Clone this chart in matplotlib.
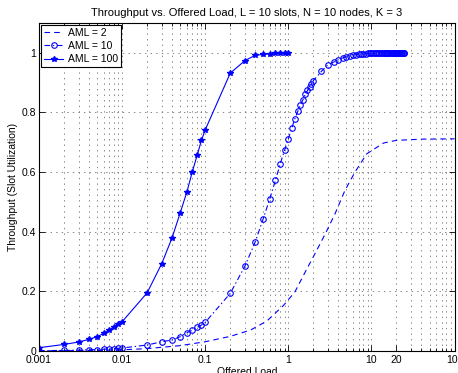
import numpy as np
import matplotlib
matplotlib.use("Agg")
import matplotlib.pyplot as plt
from matplotlib.ticker import FixedLocator, FixedFormatter, LogLocator, NullFormatter

plt.rcParams['font.family'] = ['Liberation Sans', 'DejaVu Sans']
plt.rcParams['lines.scale_dashes'] = False

# AML = 2 (dashed, no markers)
load_2 = [0.001, 0.002, 0.005, 0.01, 0.02, 0.05, 0.1, 0.2, 0.35, 0.55, 0.87, 1.2, 1.6,
          2.1, 2.8, 3.65, 4.8, 6.35, 8.8, 14, 20, 42, 100]
thr_2 = [0.0004, 0.0008, 0.002, 0.004, 0.008, 0.018, 0.031, 0.049, 0.07, 0.10, 0.152, 0.198,
         0.265, 0.327, 0.394, 0.46, 0.538, 0.60, 0.661, 0.697, 0.706, 0.71, 0.711]

# AML = 10
load_10 = [0.001, 0.002, 0.003, 0.004, 0.005, 0.006, 0.007, 0.008, 0.009, 0.01,
           0.02, 0.03, 0.04, 0.05, 0.06, 0.07, 0.08, 0.09, 0.1,
           0.2, 0.3, 0.4, 0.5, 0.6, 0.7, 0.8, 0.9, 1.0,
           1.1, 1.2, 1.3, 1.4, 1.5, 1.6, 1.7, 1.8, 1.9, 2.0,
           2.5, 3.0, 3.5, 4.0, 4.5, 5.0, 5.5, 6.0, 6.5, 7.0, 7.5, 8.0, 8.5, 9.0, 9.5, 10.0,
           10.5, 11.0, 11.5, 12.0, 12.5, 13.0, 13.5, 14.0, 14.5, 15.0, 15.5, 16.0, 16.5,
           17.0, 17.5, 18.0, 18.5, 19.0, 19.5, 20.0, 20.5, 21.0, 21.5, 22.0, 22.5, 23.0,
           23.5, 24.0, 24.5, 25.0]
thr_10 = [0.001, 0.002, 0.003, 0.004, 0.005, 0.006, 0.007, 0.008, 0.009, 0.010,
          0.020, 0.031, 0.037, 0.048, 0.061, 0.070, 0.079, 0.087, 0.096,
          0.193, 0.284, 0.366, 0.444, 0.511, 0.572, 0.628, 0.672, 0.711,
          0.747, 0.778, 0.803, 0.825, 0.842, 0.860, 0.873, 0.884, 0.895, 0.906,
          0.937, 0.959, 0.968, 0.976, 0.982, 0.986, 0.989, 0.991, 0.993, 0.994, 0.995, 0.996,
          0.996, 0.997, 0.997, 0.997, 0.998, 0.998, 0.998, 0.998, 0.998, 0.998, 0.999, 0.999,
          0.999, 0.999, 0.999, 0.999, 0.999, 0.999, 0.999, 0.999, 0.999, 0.999, 0.999, 0.999,
          0.999, 0.999, 0.999, 0.999, 0.999, 0.999, 0.999, 0.999, 0.999, 0.999]

# AML = 100
load_100 = [0.001, 0.002, 0.003, 0.004, 0.005, 0.006, 0.007, 0.008, 0.009, 0.01,
            0.02, 0.03, 0.04, 0.05, 0.06, 0.07, 0.08, 0.09, 0.1,
            0.2, 0.3, 0.4, 0.5, 0.6, 0.7, 0.8, 0.9, 1.0]
thr_100 = [0.011, 0.022, 0.030, 0.039, 0.048, 0.059, 0.070, 0.081, 0.089, 0.098,
           0.195, 0.293, 0.380, 0.463, 0.532, 0.601, 0.656, 0.706, 0.741,
           0.931, 0.973, 0.991, 0.994, 0.996, 0.997, 0.998, 0.999, 0.999]

xticks = [0.001, 0.01, 0.1, 1, 10, 20, 100]
xtick_labels = ['0.001', '0.01', '0.1', '1', '10', '20', '100']
yticks = [0, 0.2, 0.4, 0.6, 0.8, 1.0]
ytick_labels = ['0', '0.2', '0.4', '0.6', '0.8', '1']

fig = plt.figure(figsize=(4.58, 3.73), dpi=100)
ax = fig.add_axes([0.0852, 0.059, 0.9072, 0.880])

ax.semilogx(load_2, thr_2, color='b', lw=0.8, dashes=(4, 3), label='AML = 2')
ax.semilogx(load_10, thr_10, color='b', lw=0.8, dashes=(4, 2, 1, 2), marker='o',
            ms=4, mfc='none', mew=0.8, label='AML = 10')
ax.semilogx(load_100, thr_100, color='b', lw=0.8, ls='-', marker='*', ms=4,
            label='AML = 100')

ax.set_xlim(0.001, 100)
ax.set_ylim(0, 1.1)
ax.xaxis.set_major_locator(FixedLocator(xticks))
ax.xaxis.set_major_formatter(FixedFormatter(xtick_labels))
ax.xaxis.set_minor_locator(LogLocator(base=10, subs=np.arange(2, 10), numticks=20))
ax.xaxis.set_minor_formatter(NullFormatter())
ax.set_yticks(yticks)
ax.set_yticklabels(ytick_labels)

ax.tick_params(which='both', direction='in', top=True, right=True, labelsize=7.5,
               width=0.6)
ax.tick_params(axis='x', pad=3)
ax.tick_params(axis='y', pad=2)
ax.tick_params(which='major', length=4)
ax.tick_params(which='minor', length=2)
for s in ax.spines.values():
    s.set_linewidth(0.8)

grid_style = dict(ls=(0, (1, 3)), color='0.45', lw=0.6)
ax.grid(True, which='major', axis='both', **grid_style)
ax.grid(True, which='minor', axis='x', **grid_style)

ax.set_title('Throughput vs. Offered Load, L = 10 slots, N = 10 nodes, K = 3',
             fontsize=8, pad=5)
ax.set_xlabel('Offered Load', fontsize=7.5, labelpad=1)
ax.set_ylabel('Throughput (Slot Utilization)', fontsize=7.5, labelpad=3)

leg = ax.legend(loc='upper left', fontsize=7.5, fancybox=False, framealpha=1,
                edgecolor='k', borderaxespad=0.2, handlelength=1.8,
                handletextpad=0.5, borderpad=0.3, labelspacing=0.3)
leg.get_frame().set_linewidth(0.8)

fig.savefig('out.png', dpi=100)
